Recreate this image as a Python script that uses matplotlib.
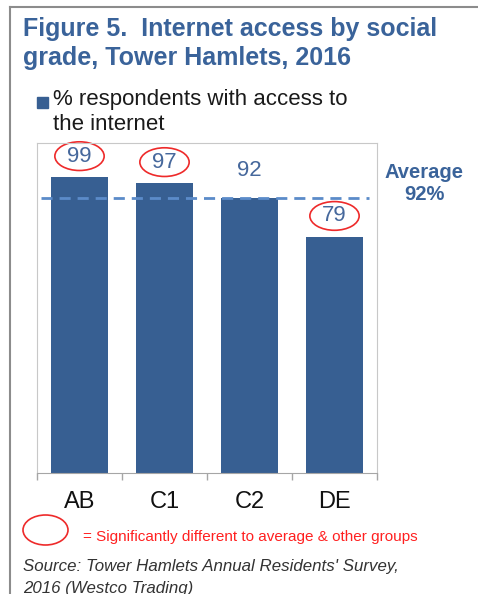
import matplotlib.pyplot as plt
from matplotlib.patches import Ellipse, Rectangle
from matplotlib.lines import Line2D

plt.rcParams['font.family'] = ['Liberation Sans', 'DejaVu Sans']

# data
grades = ['AB', 'C1', 'C2', 'DE']
pct_access = [99, 97, 92, 79]
significant = [True, True, False, True]
average = 92

W, H = 478, 594
fig = plt.figure(figsize=(W / 100, H / 100), dpi=100)


def fx(px):
    return px / W


def fy(py):
    return 1 - py / H


bar_col = '#375f92'
title_col = '#3a639a'

# outer frame (top and left edges)
fig.add_artist(Line2D([fx(10), fx(478)], [fy(7), fy(7)], color='#8c8c8c', lw=1.5))
fig.add_artist(Line2D([fx(10), fx(10)], [fy(7), fy(594)], color='#8c8c8c', lw=1.5))

# title
fig.text(fx(23), fy(36), 'Figure 5.  Internet access by social', fontsize=18,
         fontweight='bold', color=title_col, va='baseline')
fig.text(fx(23), fy(65), 'grade, Tower Hamlets, 2016', fontsize=18,
         fontweight='bold', color=title_col, va='baseline')

# legend
fig.add_artist(Rectangle((fx(37), fy(108)), fx(11), 11 / H, color=bar_col))
fig.text(fx(53), fy(100), '% respondents with access to', fontsize=16,
         color='#1a1a1a', va='center')
fig.text(fx(53), fy(125), 'the internet', fontsize=16, color='#1a1a1a', va='center')

# chart
ax = fig.add_axes([fx(37), fy(473), 340 / W, 330 / H])
x = range(len(grades))
ax.bar(x, pct_access, width=0.67, color=bar_col, zorder=2)
ax.set_xlim(-0.5, len(grades) - 0.5)
ax.set_ylim(0, 110.4)
ax.set_yticks([])
ax.set_xticks(list(x))
ax.set_xticklabels(grades, fontsize=17, color='#111111')
ax.tick_params(axis='x', which='major', length=0, pad=13)
ax.set_xticks([i - 0.5 for i in range(len(grades) + 1)], minor=True)
ax.tick_params(axis='x', which='minor', length=5, color='#a6a6a6', width=1)
for side in ['top', 'left', 'right']:
    ax.spines[side].set_color('#c8c8c8')
ax.spines['bottom'].set_color('#a6a6a6')

# average line
ax.axhline(average, xmin=0.012, xmax=0.976, color='#5b8bc9', lw=2,
           linestyle=(0, (4, 2.5)), zorder=3)

# value labels, ringed where significantly different
for i, (v, sig) in enumerate(zip(pct_access, significant)):
    ly = v + (7.0 if sig else 9.3)
    ax.text(i, ly, str(v), ha='center', va='center', fontsize=16, color='#46689c')
    if sig:
        ax.add_patch(Ellipse((i, ly), 0.58, 9.6, fill=False, ec='#ee2a2a',
                             lw=1.2, clip_on=False))

fig.text(fx(424), fy(172), 'Average', fontsize=14.5, fontweight='bold',
         color=title_col, ha='center', va='center')
fig.text(fx(424), fy(195), f'{average}%', fontsize=14.5, fontweight='bold',
         color=title_col, ha='center', va='center')

# significance key
fig.add_artist(Ellipse((fx(45.5), fy(530)), fx(45), 30 / H, fill=False,
                       ec='#ee2a2a', lw=1.2))
fig.text(fx(83), fy(537), '= Significantly different to average & other groups',
         fontsize=11, color='#ff2020', va='center')

# source
fig.text(fx(23), fy(567), "Source: Tower Hamlets Annual Residents' Survey,",
         fontsize=12.2, style='italic', color='#333333', va='center')
fig.text(fx(23), fy(588), '2016 (Westco Trading)', fontsize=12.2, style='italic',
         color='#333333', va='center')

fig.savefig('out.png', dpi=100)
